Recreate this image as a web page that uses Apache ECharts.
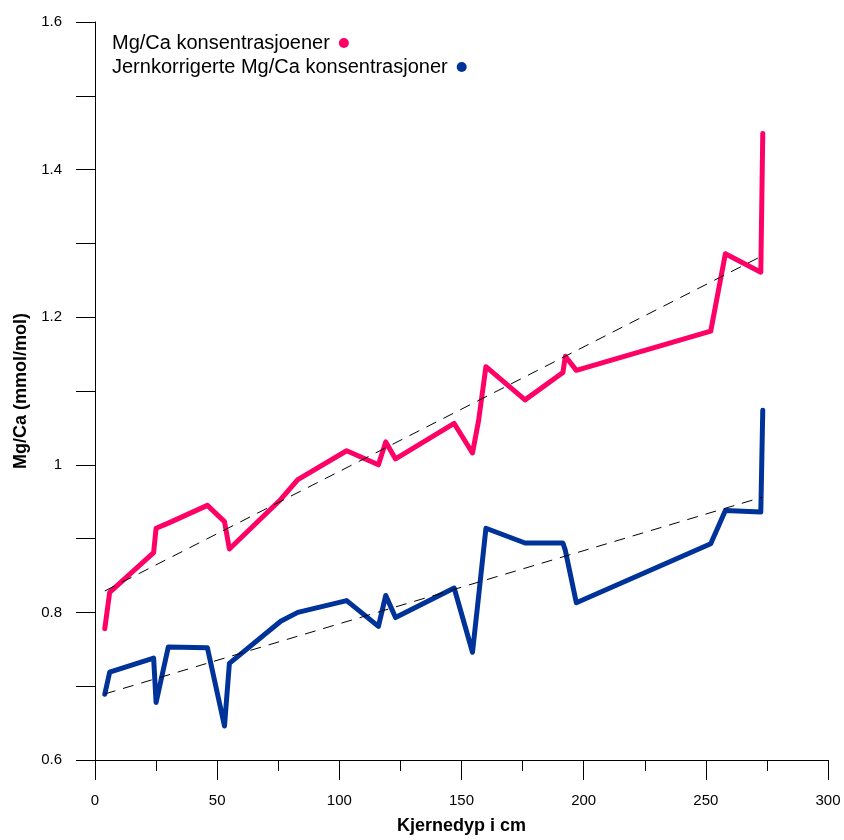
<!DOCTYPE html>
<html>
<head>
<meta charset="utf-8">
<script src="https://cdn.jsdelivr.net/npm/echarts@6/dist/echarts.min.js"></script>
<style>
  html, body { margin: 0; padding: 0; background: #ffffff; }
  #chart { width: 844px; height: 840px; }
</style>
</head>
<body>
<div id="chart"></div>
<script>
// Core depth (cm) of each sample
const depth = [4, 6, 24, 25, 30, 46, 53, 55, 76, 83, 103, 116, 119, 123, 147, 154.5, 157, 160, 176, 191.5, 192.5, 197, 252, 258, 272.5, 273.3];

// Mg/Ca (mmol/mol), raw concentrations
const mgCa = [0.778, 0.827, 0.881, 0.914, 0.921, 0.945, 0.923, 0.886, 0.953, 0.980, 1.019, 1.000, 1.031, 1.008, 1.056, 1.016, 1.060, 1.133, 1.088, 1.125, 1.147, 1.128, 1.181, 1.286, 1.261, 1.449];

// Mg/Ca (mmol/mol), iron-corrected concentrations
const mgCaFe = [0.689, 0.719, 0.738, 0.678, 0.753, 0.752, 0.646, 0.731, 0.788, 0.800, 0.816, 0.781, 0.823, 0.793, 0.833, 0.746, 0.822, 0.914, 0.894, 0.894, 0.884, 0.813, 0.893, 0.938, 0.936, 1.074];

// Linear trend lines (end points)
const trendDepth = [4, 273];
const mgCaTrend = [0.829, 1.283];
const mgCaFeTrend = [0.6895, 0.956];

// Axis tick labels
const yTickLabels = ['0.6', '0.8', '1', '1.2', '1.4', '1.6'];

const seriesNames = ['Mg/Ca konsentrasjoener', 'Jernkorrigerte Mg/Ca konsentrasjoner'];
const pink = '#ff0066';
const blue = '#003399';
const font = '"Liberation Sans", Arial, sans-serif';

const pairs = (xs, ys) => xs.map((x, i) => [x, ys[i]]);

// one legend block per entry so both lines start at the same x, dot after the text
const legendBlock = (name, top) => ({
  orient: 'vertical',
  left: 107,
  top: top,
  align: 'right',
  icon: 'circle',
  itemWidth: 10,
  itemHeight: 10,
  textStyle: { fontFamily: font, fontSize: 20, color: '#000', lineHeight: 20, padding: [0, 4, 0, 0] },
  data: [name]
});

const chart = echarts.init(document.getElementById('chart'), null, { renderer: 'canvas' });

chart.setOption({
  animation: false,
  backgroundColor: '#ffffff',
  textStyle: { fontFamily: font },
  grid: { left: 95, right: 16, top: 22, bottom: 77, containLabel: false },
  legend: [legendBlock(seriesNames[0], 28), legendBlock(seriesNames[1], 52)],
  xAxis: {
    type: 'value',
    min: 0,
    max: 300,
    interval: 50,
    name: 'Kjernedyp i cm',
    nameLocation: 'middle',
    nameGap: 57,
    nameTextStyle: { fontFamily: font, fontSize: 18, fontWeight: 'bold', color: '#000' },
    axisLine: { show: true, onZero: false, lineStyle: { color: '#000', width: 1 } },
    axisTick: { show: true, inside: false, length: 20, lineStyle: { color: '#000', width: 1 } },
    minorTick: { show: true, splitNumber: 2, length: 11, lineStyle: { color: '#000', width: 1 } },
    axisLabel: { margin: 33, fontSize: 15, color: '#000', fontFamily: font },
    splitLine: { show: false }
  },
  yAxis: {
    type: 'value',
    min: 0.6,
    max: 1.6,
    interval: 0.1,
    name: 'Mg/Ca (mmol/mol)',
    nameLocation: 'middle',
    nameGap: 63,
    nameTextStyle: { fontFamily: font, fontSize: 18, fontWeight: 'bold', color: '#000' },
    axisLine: { show: true, onZero: false, lineStyle: { color: '#000', width: 1 } },
    axisTick: { show: true, inside: false, length: 19, lineStyle: { color: '#000', width: 1 } },
    axisLabel: {
      margin: 33,
      fontSize: 15,
      color: '#000',
      fontFamily: font,
      formatter: function (v) {
        const k = Math.round((v - 0.6) * 10);
        return k % 2 === 0 ? yTickLabels[k / 2] : '';
      }
    },
    splitLine: { show: false }
  },
  series: [
    {
      name: seriesNames[0],
      type: 'line',
      data: pairs(depth, mgCa),
      showSymbol: false,
      symbol: 'circle',
      color: pink,
      lineStyle: { color: pink, width: 5, join: 'round', cap: 'round' },
      z: 3
    },
    {
      name: seriesNames[1],
      type: 'line',
      data: pairs(depth, mgCaFe),
      showSymbol: false,
      symbol: 'circle',
      color: blue,
      lineStyle: { color: blue, width: 5, join: 'round', cap: 'round' },
      z: 3
    },
    {
      name: 'trend1',
      type: 'line',
      data: pairs(trendDepth, mgCaTrend),
      showSymbol: false,
      lineStyle: { color: '#000', width: 1, type: [11, 8] },
      z: 4
    },
    {
      name: 'trend2',
      type: 'line',
      data: pairs(trendDepth, mgCaFeTrend),
      showSymbol: false,
      lineStyle: { color: '#000', width: 1, type: [11, 8] },
      z: 4
    }
  ]
});
</script>
</body>
</html>
